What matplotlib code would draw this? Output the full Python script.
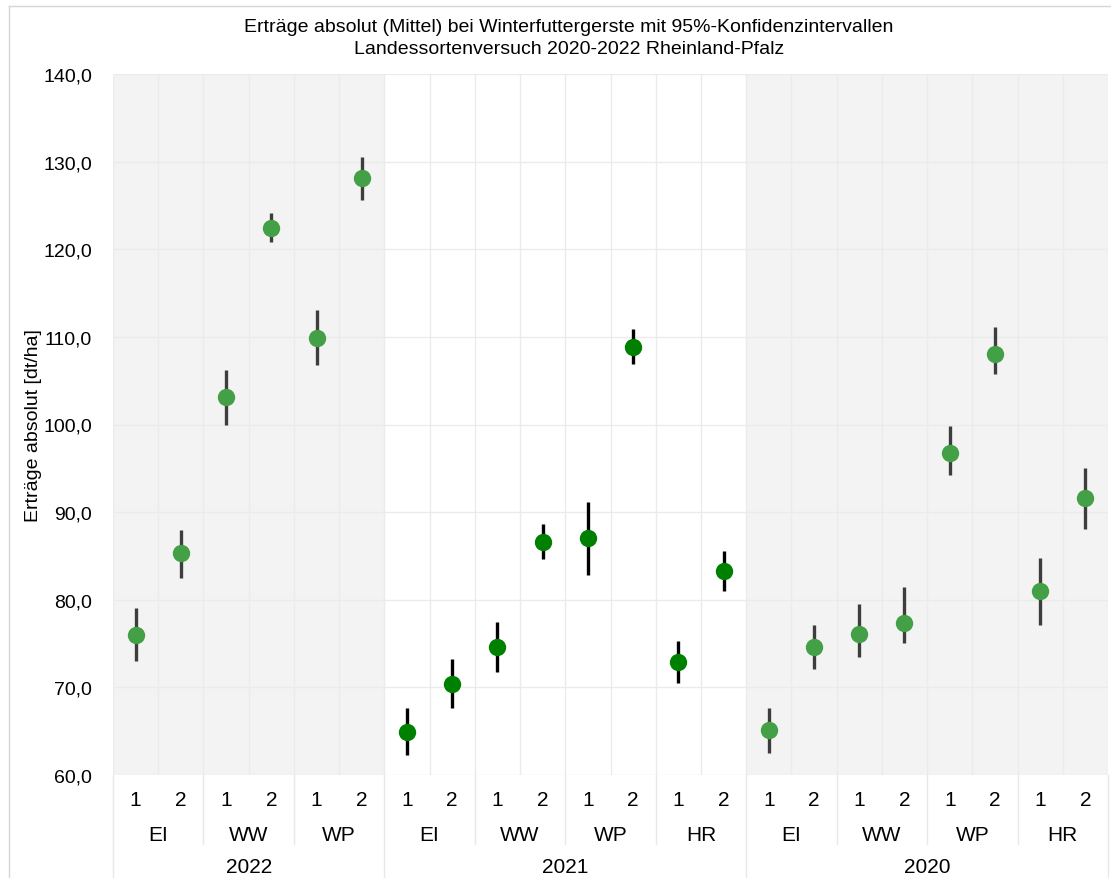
import numpy as np
import matplotlib.pyplot as plt
from matplotlib.lines import Line2D

plt.rcParams['font.family'] = ['Liberation Sans', 'DejaVu Sans']

# data
years = ['2022', '2021', '2020']
groups = {
    '2022': ['EI', 'WW', 'WP'],
    '2021': ['EI', 'WW', 'WP', 'HR'],
    '2020': ['EI', 'WW', 'WP', 'HR'],
}
sub_labels = ['1', '2']

mean_2022 = [76.0, 85.3, 103.1, 122.4, 109.9, 128.1]
low_2022 = [73.0, 82.5, 99.9, 120.8, 106.8, 125.6]
high_2022 = [79.1, 88.0, 106.2, 124.1, 113.1, 130.5]

mean_2021 = [64.9, 70.4, 74.6, 86.6, 87.0, 108.9, 72.9, 83.3]
low_2021 = [62.3, 67.7, 71.8, 84.6, 82.8, 106.9, 70.5, 81.0]
high_2021 = [67.6, 73.2, 77.5, 88.6, 91.1, 110.9, 75.3, 85.6]

mean_2020 = [65.1, 74.6, 76.1, 77.4, 96.7, 108.1, 81.0, 91.6]
low_2020 = [62.5, 72.1, 73.5, 75.1, 94.2, 105.8, 77.1, 88.1]
high_2020 = [67.7, 77.1, 79.5, 81.5, 99.8, 111.1, 84.8, 95.0]

yticks = [60, 70, 80, 90, 100, 110, 120, 130, 140]

series = {
    '2022': (mean_2022, low_2022, high_2022),
    '2021': (mean_2021, low_2021, high_2021),
    '2020': (mean_2020, low_2020, high_2020),
}
styles = {
    '2022': ('#43a047', '#3d3d3d', True),
    '2021': ('#008000', '#000000', False),
    '2020': ('#43a047', '#3d3d3d', True),
}

fig = plt.figure(figsize=(11.11, 8.79), dpi=100)
ax = fig.add_axes([113 / 1111, 1 - 776 / 879, 995 / 1111, 701 / 879])

grid_c = '#ebebeb'
lab_fs = 15
start = 0
year_bounds = [0]
group_bounds = []
for yr in years:
    n = len(groups[yr]) * 2
    mean, low, high = series[yr]
    face, ecol, shaded = styles[yr]
    x = np.arange(start, start + n) + 0.5
    if shaded:
        ax.axvspan(start - (0.2 if start == 0 else 0), start + n, color='#f3f3f3', zorder=0, lw=0)
    mean = np.array(mean)
    yerr = [mean - np.array(low), np.array(high) - mean]
    ax.errorbar(x, mean, yerr=yerr, fmt='o', color=face, ecolor=ecol,
                elinewidth=2.4, markersize=11.5, capsize=0, zorder=3)
    tr = ax.get_xaxis_transform()
    for i in range(n):
        ax.text(x[i], -0.035, sub_labels[i % 2], transform=tr, ha='center', va='center', fontsize=lab_fs)
    for g, name in enumerate(groups[yr]):
        ax.text(start + 2 * g + 1, -0.085, name, transform=tr, ha='center', va='center', fontsize=lab_fs)
        if g > 0:
            group_bounds.append(start + 2 * g)
    ax.text(start + n / 2, -0.131, yr, transform=tr, ha='center', va='center', fontsize=lab_fs)
    start += n
    year_bounds.append(start)

for xv in range(0, start + 1):
    ax.axvline(xv, color=grid_c, lw=1, zorder=1)
for yv in yticks:
    ax.axhline(yv, color=grid_c, lw=1, zorder=1)

# separators below the axis
tr = ax.get_xaxis_transform()
for xv in group_bounds:
    ax.add_line(Line2D([xv, xv], [0, -0.099], transform=tr, color='#e8e8e8', lw=1, clip_on=False))
for xv in year_bounds:
    ax.add_line(Line2D([xv, xv], [0, -0.16], transform=tr, color='#e8e8e8', lw=1, clip_on=False))

ax.set_xlim(0, start)
ax.set_ylim(60, 140)
ax.set_xticks([])
ax.set_yticks(yticks)
ax.set_yticklabels([f'{v:.1f}'.replace('.', ',') for v in yticks], fontsize=14)
ax.tick_params(axis='y', length=0, pad=15)
for s in ax.spines.values():
    s.set_visible(False)
ax.set_ylabel('Erträge absolut [dt/ha]', fontsize=14)
ax.yaxis.set_label_coords(-0.071, 0.5)

fig.text(569 / 1111, 1 - 27 / 879, 'Erträge absolut (Mittel) bei Winterfuttergerste mit 95%-Konfidenzintervallen',
         ha='center', va='center', fontsize=14)
fig.text(569 / 1111, 1 - 49 / 879, 'Landessortenversuch 2020-2022 Rheinland-Pfalz',
         ha='center', va='center', fontsize=14)

# frame around the figure
fig.add_artist(Line2D([9 / 1111, 1], [1 - 7 / 879, 1 - 7 / 879], transform=fig.transFigure, color='#d6d6d6', lw=1))
fig.add_artist(Line2D([9 / 1111, 9 / 1111], [0, 1 - 7 / 879], transform=fig.transFigure, color='#d6d6d6', lw=1))

fig.savefig('out.png', dpi=100)
